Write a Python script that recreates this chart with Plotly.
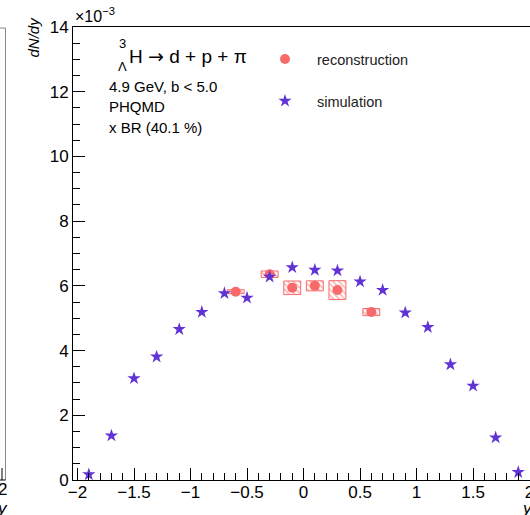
import plotly.graph_objects as go

W, H = 530, 515

# rapidity bins and dN/dy (in units of 1e-3)
sim_y = [-1.9, -1.7, -1.5, -1.3, -1.1, -0.9, -0.7, -0.5, -0.3, -0.1,
         0.1, 0.3, 0.5, 0.7, 0.9, 1.1, 1.3, 1.5, 1.7, 1.9]
sim_dndy = [0.17, 1.37, 3.14, 3.81, 4.66, 5.19, 5.77, 5.63, 6.28, 6.57,
            6.49, 6.47, 6.13, 5.87, 5.17, 4.72, 3.57, 2.91, 1.31, 0.24]

rec_y = [-0.6, -0.3, -0.1, 0.1, 0.3, 0.6]
rec_dndy = [5.82, 6.36, 5.94, 6.00, 5.87, 5.19]
rec_sys = [0.06, 0.10, 0.21, 0.155, 0.29, 0.11]
rec_halfwidth = 0.075

RED = "#f86a6a"
VIOLET = "#6233d4"
FONT = "Liberation Sans, Arial, Helvetica, sans-serif"


def px(x):
    return x / W


def py(y):
    return 1 - y / H


fig = go.Figure()

# systematic-uncertainty boxes
fig.add_trace(go.Bar(
    x=rec_y,
    y=[2 * s for s in rec_sys],
    base=[v - s for v, s in zip(rec_dndy, rec_sys)],
    width=2 * rec_halfwidth,
    marker=dict(color="rgba(0,0,0,0)",
                line=dict(color=RED, width=1),
                pattern=dict(shape="\\", fgcolor=RED, bgcolor="rgba(0,0,0,0)",
                             size=4, solidity=0.4)),
    showlegend=False, hoverinfo="skip",
))

fig.add_trace(go.Scatter(
    x=rec_y, y=rec_dndy, mode="markers", name="reconstruction",
    marker=dict(symbol="circle", size=10, color=RED),
    legend="legend",
))

fig.add_trace(go.Scatter(
    x=sim_y, y=sim_dndy, mode="markers", name="simulation",
    marker=dict(symbol="star", size=10, color=VIOLET, line=dict(width=0)),
    legend="legend2",
))

axis_common = dict(
    showgrid=False, zeroline=False, showline=True, linecolor="black",
    linewidth=1, ticks="inside", ticklen=12, tickwidth=1, tickcolor="black",
    tickfont=dict(family=FONT, size=17, color="black"), automargin=False,
    ticklabeloverflow="allow",
)

fig.update_layout(
    width=W, height=H,
    margin=dict(l=0, r=0, t=0, b=0),
    paper_bgcolor="white", plot_bgcolor="white",
    barmode="overlay",
    font=dict(family=FONT, color="black"),
    xaxis=dict(axis_common, range=[-2.04, 2.004], domain=[px(73), 1.0],
               tick0=0, dtick=0.5, mirror=True, ticklabelstandoff=-3,
               minor=dict(ticks="inside", ticklen=7, dtick=0.1, tick0=0,
                          tickcolor="black", showgrid=False)),
    yaxis=dict(axis_common, range=[0, 14], domain=[py(480), py(27)],
               tick0=0, dtick=2,
               minor=dict(ticks="inside", ticklen=7, dtick=0.5, tick0=0,
                          tickcolor="black", showgrid=False)),
    legend=dict(x=px(253), y=py(59), xanchor="left", yanchor="middle",
                itemwidth=54, font=dict(family=FONT, size=14.5, color="#222"),
                bgcolor="rgba(0,0,0,0)", borderwidth=0),
    legend2=dict(x=px(253), y=py(101), xanchor="left", yanchor="middle",
                 itemwidth=54, font=dict(family=FONT, size=14.5, color="#222"),
                 bgcolor="rgba(0,0,0,0)", borderwidth=0),
)

ARROW = '<span style="font-family:DejaVu Sans">→</span>'

annotations = [
    # axis titles and exponent
    dict(text="<i>dN/dy</i>", x=px(33), y=py(15), textangle=-90,
         xanchor="center", yanchor="top", font=dict(size=15)),
    dict(text="×10<sup>−3</sup>", x=px(73), y=py(27), xanchor="left",
         yanchor="bottom", font=dict(size=16)),
    dict(text="<i>y</i>", x=px(527), y=py(508), xanchor="center",
         yanchor="middle", font=dict(size=17)),
    # decay channel
    dict(text="3", x=px(122), y=py(44), xanchor="center", yanchor="middle",
         font=dict(size=13)),
    dict(text="Λ", x=px(122), y=py(66), xanchor="center", yanchor="middle",
         font=dict(size=13)),
    dict(text="H " + ARROW + " d + p + π", x=px(127), y=py(56),
         xanchor="left", yanchor="middle", font=dict(size=19)),
    dict(text="4.9 GeV, b < 5.0", x=px(107), y=py(86), xanchor="left",
         yanchor="middle", font=dict(size=15)),
    dict(text="PHQMD", x=px(107), y=py(107), xanchor="left",
         yanchor="middle", font=dict(size=15)),
    dict(text="x BR (40.1 %)", x=px(107), y=py(128), xanchor="left",
         yanchor="middle", font=dict(size=15)),
    # neighbouring pad edge
    dict(text="2", x=px(2), y=py(489), xanchor="center", yanchor="middle",
         font=dict(size=17)),
    dict(text="<i>y</i>", x=px(2), y=py(508), xanchor="center",
         yanchor="middle", font=dict(size=17)),
]
for a in annotations:
    a.setdefault("xref", "paper")
    a.setdefault("yref", "paper")
    a.setdefault("showarrow", False)
    fig.add_annotation(**a)

shapes = [
    dict(type="line", x0=px(0), x1=px(5.5), y0=py(28), y1=py(28),
         line=dict(color="#888", width=1)),
    dict(type="line", x0=px(5.5), x1=px(5.5), y0=py(28), y1=py(480),
         line=dict(color="#888", width=1)),
    dict(type="line", x0=px(0), x1=px(5.5), y0=py(480), y1=py(480),
         line=dict(color="black", width=1)),
    dict(type="line", x0=px(2), x1=px(2), y0=py(480), y1=py(468),
         line=dict(color="black", width=1)),
]
for s in shapes:
    s.update(xref="paper", yref="paper")
    fig.add_shape(**s)

fig.write_html("out.html")
